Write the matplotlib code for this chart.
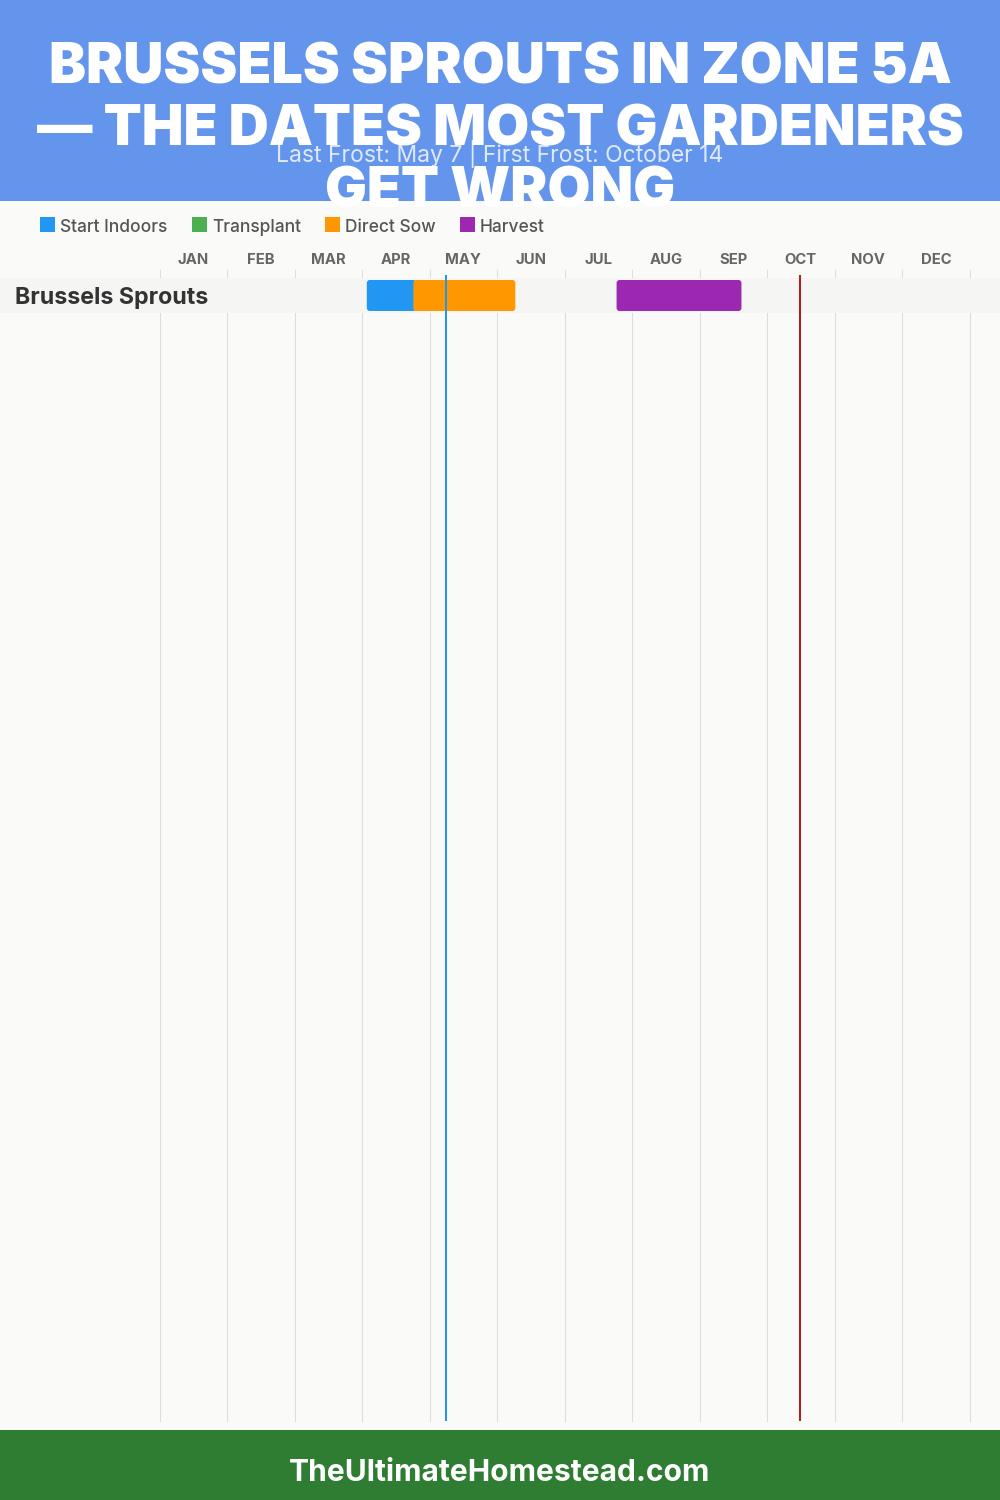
import matplotlib
matplotlib.use('Agg')
import matplotlib.pyplot as plt
from matplotlib.patches import FancyBboxPatch, Rectangle

title_lines = ['BRUSSELS SPROUTS IN ZONE 5A', '— THE DATES MOST GARDENERS', 'GET WRONG']
subtitle = 'Last Frost: May 7 | First Frost: October 14'
footer = 'TheUltimateHomestead.com'
months = ['JAN', 'FEB', 'MAR', 'APR', 'MAY', 'JUN', 'JUL', 'AUG', 'SEP', 'OCT', 'NOV', 'DEC']
legend_labels = ['Start Indoors', 'Transplant', 'Direct Sow', 'Harvest']
legend_colors = ['#2196F3', '#4CAF50', '#FF9800', '#9C27B0']
crop = 'Brussels Sprouts'
# month units, 0 = Jan 1
bar_starts = [3.07, 3.76, 6.77]
bar_ends = [3.80, 5.27, 8.62]
bar_colors = ['#2196F3', '#FF9800', '#9C27B0']
last_frost = 4.24
first_frost = 9.48

W, H = 1000, 1500
plt.rcParams['font.family'] = ['Inter', 'DejaVu Sans']

fig = plt.figure(figsize=(W / 100, H / 100), dpi=100, facecolor='#FAFAF8')


def fx(x):
    return x / W


def fy(y):
    return 1 - y / H


def box(x0, y0, x1, y1, color, z=0):
    fig.add_artist(Rectangle((fx(x0), fy(y1)), (x1 - x0) / W, (y1 - y0) / H,
                             transform=fig.transFigure, facecolor=color, edgecolor='none', zorder=z))


# header and footer
box(0, 0, 1000, 201, '#6495ED')
box(0, 1430, 1000, 1500, '#2E7D32')

for line, y in zip(title_lines, [63, 125, 187]):
    fig.text(0.5, fy(y), line, ha='center', va='center_baseline', color='white',
             fontsize=40, fontweight=900, zorder=3)
fig.text(0.5, fy(151), subtitle, ha='center', va='center_baseline', color='white', alpha=0.8,
         fontsize=16.5, zorder=4)
fig.text(0.5, fy(1470), footer, ha='center', va='center_baseline', color='white',
         fontsize=21.6, fontweight=700, zorder=3)

# legend
legend_x = [40, 192, 325, 460]
for name, color, x in zip(legend_labels, legend_colors, legend_x):
    box(x, 217, x + 15, 232, color, 3)
    fig.text(fx(x + 20), fy(225), name, ha='left', va='center_baseline', color='#555555',
             fontsize=12.5, fontweight=500, zorder=3)

# chart: x in months, y in rows
ax = fig.add_axes([fx(159.6), fy(1421), 810 / W, (1421 - 270) / H])
ax.set_xlim(0, 12)
row_h = 35
ax.set_ylim((1421 - 295.5) / row_h, (270 - 295.5) / row_h)
ax.axis('off')

for i in range(13):
    ax.axvline(i, color='#DDDDDD', lw=0.75, zorder=1, clip_on=False)
for i, m in enumerate(months):
    ax.text(i + 0.5, (259 - 295.5) / row_h, m, ha='center', va='center_baseline', color='#666666',
            fontsize=10.7, fontweight=700, clip_on=False)

# row band runs across the whole image
ax.add_patch(Rectangle((-160 / 67.5, -0.5), 1000 / 67.5, 1, facecolor='#F5F5F3', edgecolor='none',
                       zorder=2, clip_on=False))
ax.text(-145 / 67.5, 0, crop, ha='left', va='center_baseline', color='#333333',
        fontsize=16.7, fontweight=700, clip_on=False, zorder=5)

for start, end, color in zip(bar_starts, bar_ends, bar_colors):
    ax.add_patch(FancyBboxPatch((start, -15.5 / row_h), end - start, 31 / row_h,
                                boxstyle='round,pad=0,rounding_size=%f' % (3 / 67.5),
                                mutation_aspect=67.5 / row_h,
                                facecolor=color, edgecolor='none', zorder=3))

top = (275 - 295.5) / row_h
bottom = (1421 - 295.5) / row_h
ax.vlines(last_frost, top, bottom, color='#2196F3', lw=1.44, zorder=4)
ax.vlines(first_frost, top, bottom, color='#B71C1C', lw=1.44, zorder=4)

fig.savefig('out.png', dpi=100, facecolor=fig.get_facecolor())
